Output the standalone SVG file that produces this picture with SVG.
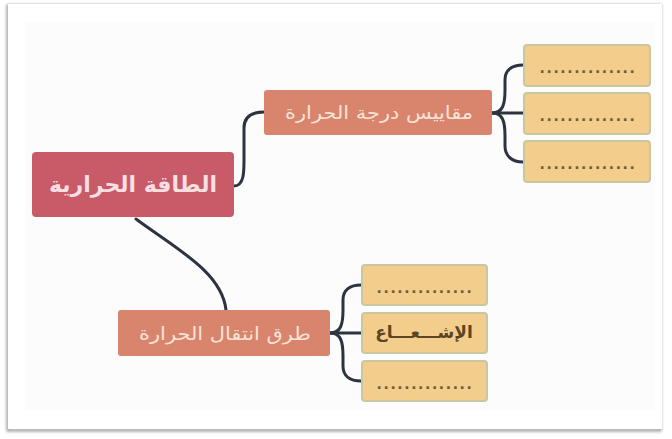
<svg xmlns="http://www.w3.org/2000/svg" width="672" height="439" viewBox="0 0 672 439">
<defs>
<filter id="sh" x="-5%" y="-5%" width="110%" height="120%"><feGaussianBlur stdDeviation="1.5"/></filter>
<style>
.root rect{fill:#c95a68;}
.mid rect{fill:#d9846c;}
.leaf rect{fill:#f3cd8c;stroke:#c9c7a0;stroke-width:2;}
.t{font-family:"DejaVu Sans","Noto Sans",sans-serif;text-anchor:middle;dominant-baseline:central;font-weight:bold;}
.rt{fill:#f8dfe2;font-size:22px;}
.mt{fill:#f7e3d8;font-size:18px;font-weight:normal;}
.dt{fill:#6e5a36;font-size:14px;letter-spacing:1.6px;}
.lt{fill:#5b4524;font-size:17px;}
.c{fill:none;stroke:#2c3441;stroke-width:3;stroke-linecap:round;}
</style>
</defs>
<rect width="672" height="439" fill="#ffffff"/>
<rect x="8" y="6" width="652" height="424" fill="none" stroke="#9a9a9a" stroke-width="3" filter="url(#sh)"/>
<rect x="8" y="4" width="654" height="425" fill="#ffffff"/>
<rect x="25" y="22" width="630" height="388" fill="#fcfcfc"/>
<g id="connectors">
<path class="c" d="M234,186 C244,186 244,172 244,160 L244,128 C244,116 252,112 264,112"/>
<path class="c" d="M136,219 C175,248 222,272 226,310"/>
<path class="c" d="M492,113 L523,113"/>
<path class="c" d="M492,113 C503,113 505,104 505,90 L505,80 C505,70 512,65 523,65"/>
<path class="c" d="M492,113 C503,113 505,122 505,136 L505,146 C505,156 512,162 523,162"/>
<path class="c" d="M330,333 L361,333"/>
<path class="c" d="M330,333 C341,333 343,324 343,310 L343,300 C343,290 350,285 361,285"/>
<path class="c" d="M330,333 C341,333 343,342 343,356 L343,366 C343,376 350,381 361,381"/>
</g>
<g id="root" class="root"><rect x="32" y="152" width="202" height="65" rx="4"/><text class="t rt" x="133" y="184">الطاقة الحرارية</text></g>
<g id="scales" class="mid"><rect x="264" y="90" width="228" height="45" rx="3"/><text class="t mt" x="379" y="112" textLength="188" lengthAdjust="spacingAndGlyphs">مقاييس درجة الحرارة</text></g>
<g id="transfer" class="mid"><rect x="118" y="310" width="212" height="46" rx="3"/><text class="t mt" x="225" y="333" textLength="172" lengthAdjust="spacingAndGlyphs">طرق انتقال الحرارة</text></g>
<g id="leaf1" class="leaf"><rect x="524" y="45" width="126" height="41" rx="3"/><text class="t dt" x="588" y="68">..............</text></g>
<g id="leaf2" class="leaf"><rect x="524" y="93" width="126" height="41" rx="3"/><text class="t dt" x="588" y="116">..............</text></g>
<g id="leaf3" class="leaf"><rect x="524" y="141" width="126" height="41" rx="3"/><text class="t dt" x="588" y="164">..............</text></g>
<g id="leaf4" class="leaf"><rect x="362" y="265" width="125" height="40" rx="3"/><text class="t dt" x="425" y="288">..............</text></g>
<g id="leaf5" class="leaf"><rect x="362" y="313" width="125" height="40" rx="3"/><text class="t lt" x="424" y="332">الإشـــعـــاع</text></g>
<g id="leaf6" class="leaf"><rect x="362" y="361" width="125" height="40" rx="3"/><text class="t dt" x="425" y="384">..............</text></g>
</svg>
